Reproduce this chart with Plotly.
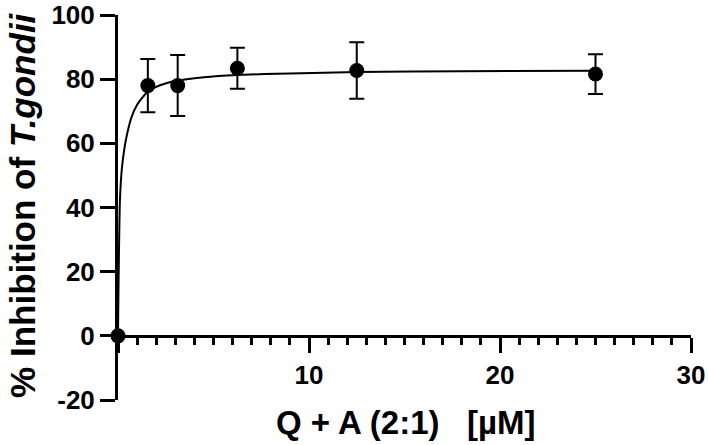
import plotly.graph_objects as go

# Data
conc = [0, 1.5625, 3.125, 6.25, 12.5, 25]
inhibition = [0, 78.0, 78.0, 83.4, 82.7, 81.6]
sd = [0, 8.3, 9.5, 6.4, 8.8, 6.2]

# Fitted curve
fit_x = [0, 0.02, 0.05, 0.1, 0.2, 0.35, 0.5, 0.7, 1.0, 1.5, 2.0, 3.0, 4.5, 6.25, 9.0, 12.5, 18.0, 25.0]
fit_y = [0, 12, 26, 42, 52, 59, 63.5, 68, 72, 75.8, 77.6, 79.4, 80.6, 81.3, 81.8, 82.2, 82.5, 82.6]

x_tickvals = [0, 10, 20, 30]
x_ticktext = ["", "10", "20", "30"]
y_tickvals = [-20, 0, 20, 40, 60, 80, 100]
y_ticktext = ["-20", "0", "20", "40", "60", "80", "100"]

FONT = "Liberation Sans, Arial, sans-serif"

fig = go.Figure()
fig.add_trace(go.Scatter(
    x=fit_x, y=fit_y, mode="lines", line=dict(color="black", width=2, shape="spline", smoothing=0.6),
    cliponaxis=False, showlegend=False, hoverinfo="skip"))
fig.add_trace(go.Scatter(
    x=conc, y=inhibition, mode="markers",
    marker=dict(color="black", size=15),
    error_y=dict(type="data", array=sd, visible=True, color="black", thickness=2, width=7.5),
    cliponaxis=False, showlegend=False))

fig.update_layout(
    width=708, height=445,
    margin=dict(l=118, r=17, t=15, b=45),
    paper_bgcolor="white", plot_bgcolor="white",
    font=dict(family=FONT, color="black"),
    xaxis=dict(
        range=[0, 30], anchor="free", position=1/6, automargin=False,
        showline=True, linecolor="black", linewidth=3,
        showgrid=False, zeroline=False,
        ticks="outside", ticklen=15, tickwidth=3, tickcolor="black",
        tickvals=x_tickvals, ticktext=x_ticktext, ticklabeloverflow="allow",
        tickfont=dict(size=26, family=FONT, weight="bold"),
        minor=dict(dtick=1, ticks="outside", ticklen=7, tickwidth=3, tickcolor="black", showgrid=False),
        layer="below traces",
    ),
    yaxis=dict(
        range=[-20, 100], automargin=False,
        showline=True, linecolor="black", linewidth=3,
        showgrid=False, zeroline=False,
        ticks="outside", ticklen=15, tickwidth=3, tickcolor="black",
        tickvals=y_tickvals, ticktext=y_ticktext, ticklabeloverflow="allow",
        tickfont=dict(size=26, family=FONT, weight="bold"),
        layer="below traces",
    ),
    annotations=[
        dict(text="% Inhibition of <i>T.gondii</i>", xref="paper", yref="paper",
             x=-0.168, y=0.506, xanchor="center", yanchor="middle", textangle=-90,
             showarrow=False, font=dict(size=35, family=FONT, weight="bold")),
        dict(text="Q + A (2:1)\u00a0\u00a0\u00a0[µM]", xref="paper", yref="paper",
             x=0.5025, y=-0.058, xanchor="center", yanchor="middle",
             showarrow=False, font=dict(size=33, family=FONT, weight="bold")),
    ],
)

fig.write_html("out.html", config={"displayModeBar": False},
               post_script="document.body.style.margin='0';")
